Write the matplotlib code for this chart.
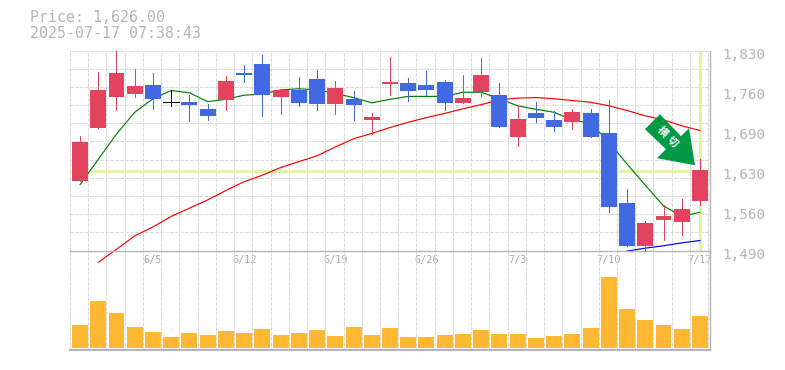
#!/bin/python3

import numpy as np
import matplotlib
matplotlib.use("Agg")
import matplotlib.pyplot as plt
from matplotlib.patches import Polygon
from matplotlib.transforms import ScaledTranslation, IdentityTransform

dates = ["6/5", "6/12", "6/19", "6/26", "7/3", "7/10", "7/17"]
date_idx = [4, 9, 14, 19, 24, 29, 34]
price_ticks = ["1,490", "1,560", "1,630", "1,690", "1,760", "1,830"]

highs = [1685, 1793, 1829, 1798, 1792, 1763, 1754, 1739, 1787, 1805, 1822, 1764, 1785, 1797, 1778, 1761, 1724, 1819,
         1783, 1795, 1780, 1788, 1817, 1775, 1737, 1742, 1727, 1731, 1731, 1746, 1595, 1540, 1567, 1578, 1646]
body_top = [1674, 1763, 1792, 1770, 1771, 1742, 1742, 1730, 1778, 1792, 1807, 1763, 1763, 1781, 1766, 1747, 1717, 1776,
            1775, 1771, 1776, 1749, 1788, 1754, 1714, 1724, 1712, 1725, 1724, 1690, 1571, 1537, 1549, 1561, 1627]
body_bot = [1608, 1698, 1751, 1756, 1747, 1742, 1737, 1719, 1746, 1789, 1754, 1751, 1741, 1739, 1739, 1737, 1712, 1773,
            1761, 1763, 1741, 1741, 1759, 1700, 1683, 1715, 1700, 1708, 1683, 1564, 1498, 1498, 1542, 1538, 1574]
lows = [1608, 1698, 1729, 1751, 1730, 1736, 1710, 1712, 1729, 1776, 1719, 1722, 1736, 1729, 1722, 1712, 1688, 1754,
        1744, 1754, 1729, 1741, 1753, 1700, 1668, 1708, 1693, 1697, 1683, 1555, 1498, 1489, 1508, 1516, 1567]
# 0 = up (red), 1 = down (blue), 2 = unchanged (black)
kinds = [0, 0, 0, 0, 1, 2, 1, 1, 0, 1, 1, 0, 1, 1, 0, 1, 0, 0,
         1, 1, 1, 0, 0, 1, 0, 1, 1, 0, 1, 1, 1, 0, 0, 0, 0]
volumes = [23, 47, 35, 21, 16, 11, 15, 13, 17, 15, 19, 13, 15, 18, 12, 21, 13, 20,
           11, 11, 13, 14, 18, 14, 14, 10, 12, 14, 20, 71, 39, 28, 23, 19, 32]

ma_short = [1602, 1645, 1688, 1725, 1748, 1762, 1758, 1743, 1747, 1754, 1756, 1763, 1765, 1763, 1757, 1750, 1741, 1747,
            1752, 1752, 1752, 1759, 1759, 1748, 1736, 1730, 1725, 1712, 1706, 1675, 1637, 1601, 1566, 1548, 1555]
ma_long = [np.nan, 1470, 1492, 1515, 1530, 1548, 1562, 1576, 1592, 1607, 1618, 1631, 1641, 1651, 1666, 1680, 1689, 1699,
           1708, 1716, 1723, 1731, 1738, 1746, 1749, 1750, 1748, 1745, 1742, 1736, 1728, 1719, 1712, 1702, 1694]
ma_xlong = [np.nan] * 30 + [1489, 1494, 1498, 1503, 1507]

title_lines = ["Price: 1,626.00", "2025-07-17 07:38:43"]
arrow_label = ["横", "切"]
last_price = 1626

GREY = "#b4b4b4"
GRID = "#dcdcdc"
HILITE = "#e2f3a2"
colors = ["#e2445f", "#4169e1", "#000000"]
W, H = 785, 370
X0, X1 = 70, 710
DASH = (0, (3, 2))

fig = plt.figure(figsize=(W / 100, H / 100), dpi=100, facecolor="white")
ax = fig.add_axes([X0 / W, 1 - 250.5 / H, (X1 - X0) / W, 200 / H])
vol = fig.add_axes([X0 / W, 1 - 350 / H, (X1 - X0) / W, 99.5 / H])

xs = np.arange(len(kinds))
edges = np.arange(len(kinds) + 1) - 0.55

for a in (ax, vol):
    a.set_xlim(-0.55, 34.55)
    for s in ("top", "left"):
        a.spines[s].set_visible(False)
    a.spines["right"].set_color(GREY)
    a.spines["right"].set_linewidth(1)

# main panel
ax.set_ylim(1490, 1830)
ax.vlines(edges, 1490, 1830, colors=GRID, linewidth=0.72, linestyles=DASH, zorder=0, antialiased=False)
ax.hlines(np.linspace(1490, 1830, 12), edges[0], edges[-1], colors=GRID, linewidth=0.72,
          linestyles=DASH, zorder=0, antialiased=False)
ax.axhline(last_price, color=HILITE, linewidth=2.3, zorder=1)
ax.axvline(xs[-1], color=HILITE, linewidth=2.3, ymin=0.005, zorder=1)

ax.plot(xs, ma_long, color="#ff0000", linewidth=0.85, clip_on=False, zorder=2)
ax.plot(xs, ma_short, color="#008000", linewidth=0.85, clip_on=False, zorder=2)
ax.plot(xs, ma_xlong, color="#0000ff", linewidth=0.85, clip_on=False, zorder=2)

bar_colors = [colors[k] for k in kinds]
ax.vlines(xs, lows, highs, colors=bar_colors, linewidth=0.7, zorder=3, clip_on=False, antialiased=False)
ax.bar(xs, np.array(body_top) - np.array(body_bot), bottom=body_bot, width=0.877, color=bar_colors,
       linewidth=0, zorder=4)
doji = [i for i, k in enumerate(kinds) if k == 2]
ax.hlines([body_top[i] for i in doji], [i - 0.44 for i in doji], [i + 0.44 for i in doji],
          colors="#000000", linewidth=0.7, zorder=4, antialiased=False)

ax.spines["bottom"].set_color(GREY)
ax.spines["bottom"].set_linewidth(1)
ax.yaxis.tick_right()
ax.set_yticks(np.linspace(1490, 1830, 6), price_ticks, family="DejaVu Sans Mono", fontsize=10.4, color=GREY)
ax.set_xticks(date_idx, dates, family="DejaVu Sans Mono", fontsize=7.4, color="#aaaaaa")
ax.tick_params(axis="y", length=0, pad=8.6)
ax.tick_params(axis="x", length=0, pad=3.5)
down = ScaledTranslation(0, -3 / 100, fig.dpi_scale_trans)
for lab in ax.get_yticklabels():
    lab.set_transform(lab.get_transform() + down)

# volume panel
vol.set_ylim(-2, 97.5)
vol.patch.set_alpha(0)
vol.vlines(edges, -2, 97.5, colors=GRID, linewidth=0.72, linestyles=DASH, zorder=0, antialiased=False)
vol.bar(xs, volumes, width=0.877, color="#ffb833", linewidth=0, zorder=2)
vol.spines["bottom"].set_color(GREY)
vol.spines["bottom"].set_linewidth(1.5)
vol.set_xticks([])
vol.set_yticks([])

# signal arrow, pixel offsets from the tip
fig.canvas.draw()
tip = ax.transData.transform((xs[-1], body_top[-1] + 8)) - np.array([5, 0])
offs = np.array([(-50, 36), (-35, 51), (-14, 29), (-6, 37), (0, 0), (-38, 7), (-29, 16)])
ax.add_patch(Polygon(tip + offs, closed=True, transform=IdentityTransform(), facecolor="#009944",
                     edgecolor="none", zorder=6, clip_on=False))
for ch, off in zip(arrow_label, [(-33, 33.5), (-23, 23.5)]):
    p = tip + np.array(off)
    fig.text(p[0] / W, p[1] / H, ch, family="Noto Sans CJK JP", fontsize=7.5, fontweight="bold", color="white",
             rotation=-45, ha="center", va="center", zorder=7)

fig.text(30 / W, 1 - 18 / H, title_lines[0], family="DejaVu Sans Mono", fontsize=10.7, color=GREY, va="center")
fig.text(30 / W, 1 - 33 / H, title_lines[1], family="DejaVu Sans Mono", fontsize=10.7, color=GREY, va="center")

fig.savefig("out.png", dpi=100, facecolor="white")
